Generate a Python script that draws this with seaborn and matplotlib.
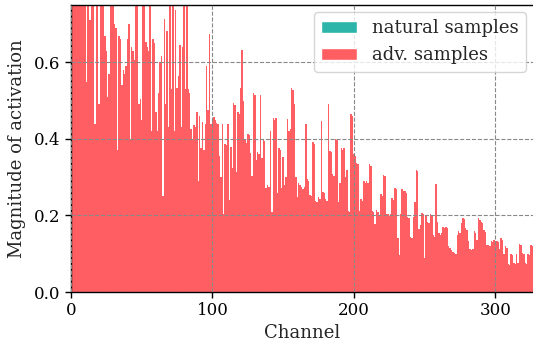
import numpy as np
import pandas as pd
import matplotlib
matplotlib.use("Agg")
import matplotlib.pyplot as plt
from matplotlib.patches import Patch
import seaborn as sns

# Magnitude of activation per channel for adversarial samples
adv_values = [
    0.82, 0.79, 0.88, 0.76, 0.85, 0.80, 0.77, 0.90, 0.83, 0.78,
    0.81, 0.55, 0.79, 0.71, 0.71, 0.80, 0.84, 0.44, 0.86, 0.80,
    0.49, 0.77, 0.84, 0.79, 0.67, 0.63, 0.51, 0.57, 0.78, 0.85,
    0.80, 0.70, 0.69, 0.37, 0.67, 0.66, 0.54, 0.58, 0.57, 0.59,
    0.66, 0.70, 0.40, 0.64, 0.63, 0.605, 0.80, 0.84, 0.49, 0.505,
    0.45, 0.80, 0.86, 0.654, 0.64, 0.63, 0.80, 0.42, 0.66, 0.65,
    0.47, 0.42, 0.52, 0.60, 0.617, 0.25, 0.713, 0.49, 0.682, 0.43,
    0.80, 0.53, 0.83, 0.42, 0.737, 0.532, 0.565, 0.645, 0.43, 0.64,
    0.82, 0.53, 0.80, 0.53, 0.52, 0.427, 0.40, 0.436, 0.43, 0.47,
    0.29, 0.46, 0.375, 0.443, 0.37, 0.44, 0.59, 0.475, 0.674, 0.439,
    0.45, 0.457, 0.45, 0.442, 0.438, 0.355, 0.30, 0.44, 0.205, 0.388,
    0.385, 0.439, 0.24, 0.38, 0.323, 0.493, 0.488, 0.314, 0.47, 0.465,
    0.532, 0.633, 0.499, 0.40, 0.39, 0.413, 0.41, 0.364, 0.303, 0.52,
    0.515, 0.345, 0.365, 0.36, 0.515, 0.35, 0.40, 0.395, 0.272, 0.28,
    0.275, 0.42, 0.21, 0.455, 0.45, 0.455, 0.26, 0.376, 0.37, 0.272,
    0.354, 0.28, 0.30, 0.452, 0.42, 0.425, 0.532, 0.528, 0.49, 0.30,
    0.248, 0.286, 0.28, 0.274, 0.27, 0.274, 0.44, 0.294, 0.29, 0.254,
    0.25, 0.392, 0.388, 0.238, 0.235, 0.247, 0.243, 0.447, 0.262, 0.258,
    0.242, 0.238, 0.491, 0.369, 0.365, 0.308, 0.304, 0.401, 0.397, 0.234,
    0.286, 0.377, 0.372, 0.377, 0.30, 0.319, 0.212, 0.208, 0.465, 0.46,
    0.36, 0.355, 0.338, 0.334, 0.211, 0.242, 0.238, 0.29, 0.286, 0.29,
    0.285, 0.334, 0.33, 0.212, 0.208, 0.177, 0.214, 0.21, 0.2, 0.256,
    0.252, 0.306, 0.302, 0.205, 0.203, 0.199, 0.203, 0.245, 0.241, 0.272,
    0.268, 0.14, 0.097, 0.203, 0.268, 0.264, 0.264, 0.26, 0.197, 0.193,
    0.145, 0.141, 0.197, 0.234, 0.319, 0.315, 0.164, 0.175, 0.207, 0.203,
    0.088, 0.201, 0.184, 0.18, 0.203, 0.199, 0.149, 0.145, 0.281, 0.184,
    0.153, 0.149, 0.155, 0.17, 0.166, 0.17, 0.167, 0.121, 0.114, 0.11,
    0.104, 0.101, 0.1, 0.149, 0.159, 0.155, 0.18, 0.193, 0.19, 0.167,
    0.163, 0.134, 0.113, 0.11, 0.113, 0.159, 0.155, 0.136, 0.193, 0.189,
    0.184, 0.18, 0.161, 0.157, 0.124, 0.122, 0.119, 0.133, 0.13, 0.136,
    0.133, 0.134, 0.131, 0.113, 0.14, 0.137, 0.1, 0.119, 0.116, 0.073,
    0.071, 0.1, 0.097, 0.075, 0.073, 0.1, 0.075, 0.126, 0.123, 0.102,
    0.099, 0.075, 0.073, 0.1, 0.097, 0.124, 0.121,
]
channels = list(range(len(adv_values)))

series_labels = ["natural samples", "adv. samples"]
x_ticks = [0, 100, 200, 300]
y_ticks = [0.0, 0.2, 0.4, 0.6]

teal = "#2db5aa"
red = "#ff5f62"

sns.set_style("ticks")
plt.rcParams["font.family"] = ["DejaVu Serif"]

fig = plt.figure(figsize=(5.33, 3.45), dpi=100)
ax = fig.add_axes([0.133, 0.1536, 0.867, 0.832])

df = pd.DataFrame({"channel": channels, "value": adv_values})
sns.barplot(data=df, x="channel", y="value", native_scale=True, width=1.0,
            color=red, saturation=1, linewidth=0, ax=ax)

ax.set_xlim(0, 326.5)
ax.set_ylim(0, 0.75)
ax.set_xticks(x_ticks)
ax.set_yticks(y_ticks)
ax.set_xticklabels([str(t) for t in x_ticks], fontsize=12)
ax.set_yticklabels([f"{t:.1f}" for t in y_ticks], fontsize=12)
ax.set_xlabel("Channel", fontsize=13, labelpad=3)
ax.set_ylabel("Magnitude of activation", fontsize=13, labelpad=6)

ax.set_axisbelow(False)
ax.grid(True, linestyle="--", color="#888888", linewidth=0.8)
ax.spines["right"].set_visible(False)
for s in ["top", "left", "bottom"]:
    ax.spines[s].set_color("black")
    ax.spines[s].set_linewidth(1.0)
ax.tick_params(direction="out", length=4, width=1, colors="black")

handles = [Patch(facecolor=teal, label=series_labels[0]),
           Patch(facecolor=red, label=series_labels[1])]
ax.legend(handles=handles, loc="upper right", fontsize=13, frameon=True,
          borderaxespad=0.4)

fig.savefig("out.png", dpi=100)
